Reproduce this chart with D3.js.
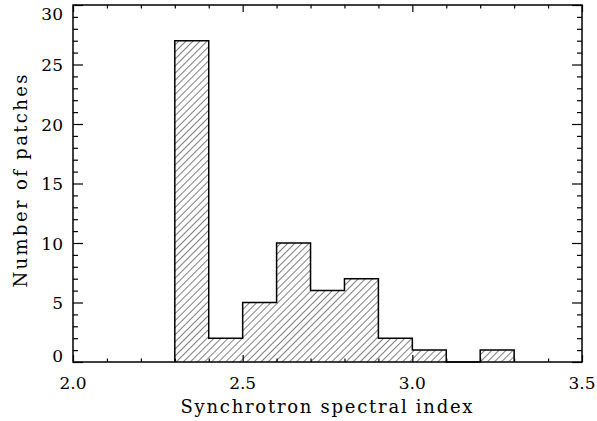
<!DOCTYPE html>
<html>
<head>
<meta charset="utf-8">
<script src="https://cdn.jsdelivr.net/npm/d3@7"></script>
<style>
  html, body { margin: 0; padding: 0; background: #fff; }
  svg { display: block; }
  text { font-family: "DejaVu Serif", "Liberation Serif", serif; fill: #000; }
</style>
</head>
<body>
<svg id="chart" width="597" height="421"></svg>
<script>
// ---- data ----
const binStarts = [2.3, 2.4, 2.5, 2.6, 2.7, 2.8, 2.9, 3.0, 3.1, 3.2];
const binWidth = 0.1;
const counts = [27, 2, 5, 10, 6, 7, 2, 1, 0, 1];
const xMajorTicks = [2.0, 2.5, 3.0, 3.5];
const xTickLabels = ["2.0", "2.5", "3.0", "3.5"];
const yMajorTicks = [0, 5, 10, 15, 20, 25, 30];
const yTickLabels = ["0", "5", "10", "15", "20", "25", "30"];
const xTitle = "Synchrotron spectral index";
const yTitle = "Number of patches";

// ---- layout ----
const pLeft = 73, pRight = 582, pTop = 5, pBottom = 362;
const svg = d3.select("#chart");
const x = d3.scaleLinear().domain([2.0, 3.5]).range([pLeft, pRight]);
const y = d3.scaleLinear().domain([0, 30]).range([pBottom, pTop]);

// hatch pattern
const defs = svg.append("defs");
defs.append("pattern")
  .attr("id", "hatch")
  .attr("patternUnits", "userSpaceOnUse")
  .attr("width", 5).attr("height", 5)
  .attr("patternTransform", "rotate(45)")
  .append("line")
  .attr("x1", 0).attr("y1", -1).attr("x2", 0).attr("y2", 6)
  .attr("stroke", "#000").attr("stroke-width", 1);

// bars (filled with hatch)
const bins = binStarts.map((s, i) => ({x0: s, x1: +(s + binWidth).toFixed(2), c: counts[i]}));
svg.append("g").selectAll("rect")
  .data(bins.filter(d => d.c > 0))
  .join("rect")
  .attr("x", d => x(d.x0))
  .attr("y", d => y(d.c))
  .attr("width", d => x(d.x1) - x(d.x0))
  .attr("height", d => y(0) - y(d.c))
  .attr("fill", "url(#hatch)");

// step outline
const pts = [[bins[0].x0, 0]];
bins.forEach(d => { pts.push([d.x0, d.c]); pts.push([d.x1, d.c]); });
pts.push([bins[bins.length - 1].x1, 0]);
svg.append("path")
  .attr("d", d3.line().x(d => x(d[0])).y(d => y(d[1]))(pts))
  .attr("fill", "none").attr("stroke", "#000").attr("stroke-width", 1.5)
  .attr("stroke-linejoin", "miter");

// axes with d3 axis generators (ticks drawn inward)
const xMinor = d3.range(20, 36).map(v => v / 10).filter(v => !xMajorTicks.some(m => Math.abs(m - v) < 1e-9));
const yMinor = d3.range(0, 31).filter(v => v % 5 !== 0);

function styleAxis(g) {
  g.select(".domain").remove();
  g.selectAll("line").attr("stroke", "#000").attr("stroke-width", 1.2);
}

// bottom
svg.append("g").attr("transform", `translate(0,${pBottom})`)
  .call(d3.axisTop(x).tickValues(xMajorTicks).tickSize(7).tickFormat(""))
  .call(styleAxis);
svg.append("g").attr("transform", `translate(0,${pBottom})`)
  .call(d3.axisTop(x).tickValues(xMinor).tickSize(3.5).tickFormat(""))
  .call(styleAxis);
// top
svg.append("g").attr("transform", `translate(0,${pTop})`)
  .call(d3.axisBottom(x).tickValues(xMajorTicks).tickSize(7).tickFormat(""))
  .call(styleAxis);
svg.append("g").attr("transform", `translate(0,${pTop})`)
  .call(d3.axisBottom(x).tickValues(xMinor).tickSize(3.5).tickFormat(""))
  .call(styleAxis);
// left
svg.append("g").attr("transform", `translate(${pLeft},0)`)
  .call(d3.axisRight(y).tickValues(yMajorTicks).tickSize(10).tickFormat(""))
  .call(styleAxis);
svg.append("g").attr("transform", `translate(${pLeft},0)`)
  .call(d3.axisRight(y).tickValues(yMinor).tickSize(5).tickFormat(""))
  .call(styleAxis);
// right
svg.append("g").attr("transform", `translate(${pRight},0)`)
  .call(d3.axisLeft(y).tickValues(yMajorTicks).tickSize(10).tickFormat(""))
  .call(styleAxis);
svg.append("g").attr("transform", `translate(${pRight},0)`)
  .call(d3.axisLeft(y).tickValues(yMinor).tickSize(5).tickFormat(""))
  .call(styleAxis);

// frame
svg.append("rect")
  .attr("x", pLeft).attr("y", pTop)
  .attr("width", pRight - pLeft).attr("height", pBottom - pTop)
  .attr("fill", "none").attr("stroke", "#000").attr("stroke-width", 1.5);

// tick labels
svg.append("g").selectAll("text")
  .data(xMajorTicks)
  .join("text")
  .attr("x", d => x(d))
  .attr("y", 389)
  .attr("text-anchor", "middle")
  .attr("font-size", 17)
  .text((d, i) => xTickLabels[i]);

svg.append("g").selectAll("text")
  .data(yMajorTicks)
  .join("text")
  .attr("x", 63)
  .attr("y", d => Math.min(Math.max(y(d) + 6.5, pTop + 15), pBottom))
  .attr("text-anchor", "end")
  .attr("font-size", 17)
  .text((d, i) => yTickLabels[i]);

// axis titles
svg.append("text")
  .attr("x", (pLeft + pRight) / 2 - 1)
  .attr("y", 413)
  .attr("text-anchor", "middle")
  .attr("font-size", 18)
  .attr("textLength", 292)
  .attr("lengthAdjust", "spacing")
  .text(xTitle);

svg.append("text")
  .attr("transform", `translate(27,181) rotate(-90)`)
  .attr("text-anchor", "middle")
  .attr("font-size", 18)
  .attr("textLength", 213)
  .attr("lengthAdjust", "spacing")
  .text(yTitle);
</script>
</body>
</html>
